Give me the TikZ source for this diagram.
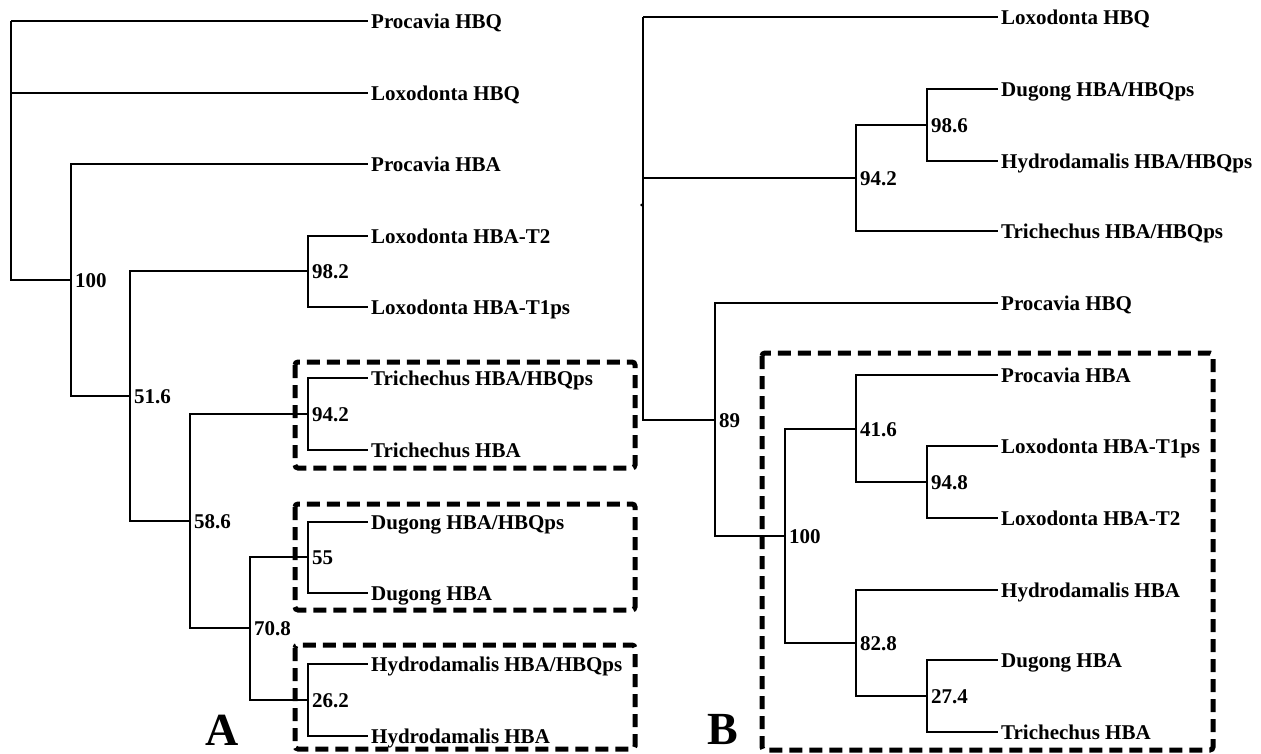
\documentclass[tikz,border=0pt]{standalone}
\usepackage{fontspec}
\setmainfont{Liberation Serif}
\begin{document}
\begin{tikzpicture}[x=1pt,y=-1pt,
  br/.style={line width=1.8pt, line join=miter},
  leaf/.style={anchor=base west, inner sep=0pt, font=\fontsize{21}{24}\selectfont\bfseries},
  supp/.style={anchor=base west, inner sep=0pt, font=\fontsize{21}{24}\selectfont\bfseries},
  panel/.style={anchor=base, inner sep=0pt, font=\fontsize{46}{50}\selectfont\bfseries},
  dbox/.style={line width=5pt, dash pattern=on 13pt off 7pt, rounded corners=3pt}]
\useasboundingbox (0,0) rectangle (1261,753);

% ---------------- Tree A ----------------
\coordinate (rA) at (11,21);
\coordinate (a100) at (71,280);
\coordinate (a516) at (130,396);
\coordinate (a982) at (308,271);
\coordinate (a586) at (190,521);
\coordinate (a942) at (308,414);
\coordinate (a708) at (250,628);
\coordinate (a55) at (308,557);
\coordinate (a262) at (308,700);

\coordinate (eA1) at (368,21);
\coordinate (eA2) at (368,93);
\coordinate (eA3) at (368,164);
\coordinate (eA4) at (368,236);
\coordinate (eA5) at (368,307);
\coordinate (eA6) at (368,378);
\coordinate (eA7) at (368,450);
\coordinate (eA8) at (368,522);
\coordinate (eA9) at (368,593);
\coordinate (eA10) at (368,664);
\coordinate (eA11) at (368,736);

\draw[br] (rA) |- (eA1);
\draw[br] (rA) |- (eA2);
\draw[br] (rA) |- (a100);
\draw[br] (a100) |- (eA3);
\draw[br] (a100) |- (a516);
\draw[br] (a516) |- (a982);
\draw[br] (a516) |- (a586);
\draw[br] (a982) |- (eA4);
\draw[br] (a982) |- (eA5);
\draw[br] (a586) |- (a942);
\draw[br] (a586) |- (a708);
\draw[br] (a942) |- (eA6);
\draw[br] (a942) |- (eA7);
\draw[br] (a708) |- (a55);
\draw[br] (a708) |- (a262);
\draw[br] (a55) |- (eA8);
\draw[br] (a55) |- (eA9);
\draw[br] (a262) |- (eA10);
\draw[br] (a262) |- (eA11);

\node[leaf] (tA1) at (371,28) {Procavia HBQ};
\node[leaf] (tA2) at (371,100) {Loxodonta HBQ};
\node[leaf] (tA3) at (371,171) {Procavia HBA};
\node[leaf] (tA4) at (371,243) {Loxodonta HBA-T2};
\node[leaf] (tA5) at (371,314) {Loxodonta HBA-T1ps};
\node[leaf] (tA6) at (371,385) {Trichechus HBA/HBQps};
\node[leaf] (tA7) at (371,457) {Trichechus HBA};
\node[leaf] (tA8) at (371,529) {Dugong HBA/HBQps};
\node[leaf] (tA9) at (371,600) {Dugong HBA};
\node[leaf] (tA10) at (371,671) {Hydrodamalis HBA/HBQps};
\node[leaf] (tA11) at (371,743) {Hydrodamalis HBA};

\node[supp] (sA100) at (75,287) {100};
\node[supp] (sA516) at (134,403) {51.6};
\node[supp] (sA982) at (312,278) {98.2};
\node[supp] (sA586) at (194,528) {58.6};
\node[supp] (sA942) at (312,421) {94.2};
\node[supp] (sA708) at (254,635) {70.8};
\node[supp] (sA55) at (312,564) {55};
\node[supp] (sA262) at (312,707) {26.2};

\draw[dbox] (295,362) rectangle (635,468);
\draw[dbox] (295,504) rectangle (635,610);
\draw[dbox] (295,645) rectangle (635,749);

\node[panel] (labA) at (222,745) {A};

% ---------------- Tree B ----------------
\coordinate (rB) at (643,17);
\coordinate (b942) at (856,178);
\coordinate (b986) at (927,125);
\coordinate (b89) at (715,420);
\coordinate (b100) at (785,536);
\coordinate (b416) at (856,429);
\coordinate (b948) at (927,482);
\coordinate (b828) at (856,643);
\coordinate (b274) at (927,696);

\coordinate (eB1) at (998,17);
\coordinate (eB2) at (998,89);
\coordinate (eB3) at (998,161);
\coordinate (eB4) at (998,231);
\coordinate (eB5) at (998,303);
\coordinate (eB6) at (998,375);
\coordinate (eB7) at (998,446);
\coordinate (eB8) at (998,518);
\coordinate (eB9) at (998,590);
\coordinate (eB10) at (998,660);
\coordinate (eB11) at (998,732);

\draw[br] (rB) |- (eB1);
\draw[br] (rB) |- (b942);
\draw[br] (rB) |- (b89);
\draw[br] (b942) |- (b986);
\draw[br] (b942) |- (eB4);
\draw[br] (b986) |- (eB2);
\draw[br] (b986) |- (eB3);
\draw[br] (b89) |- (eB5);
\draw[br] (b89) |- (b100);
\draw[br] (b100) |- (b416);
\draw[br] (b100) |- (b828);
\draw[br] (b416) |- (eB6);
\draw[br] (b416) |- (b948);
\draw[br] (b948) |- (eB7);
\draw[br] (b948) |- (eB8);
\draw[br] (b828) |- (eB9);
\draw[br] (b828) |- (b274);
\draw[br] (b274) |- (eB10);
\draw[br] (b274) |- (eB11);

\fill (641.5,205) circle (1.3pt);

\node[leaf] (tB1) at (1001,24) {Loxodonta HBQ};
\node[leaf] (tB2) at (1001,96) {Dugong HBA/HBQps};
\node[leaf] (tB3) at (1001,168) {Hydrodamalis HBA/HBQps};
\node[leaf] (tB4) at (1001,238) {Trichechus HBA/HBQps};
\node[leaf] (tB5) at (1001,310) {Procavia HBQ};
\node[leaf] (tB6) at (1001,382) {Procavia HBA};
\node[leaf] (tB7) at (1001,453) {Loxodonta HBA-T1ps};
\node[leaf] (tB8) at (1001,525) {Loxodonta HBA-T2};
\node[leaf] (tB9) at (1001,597) {Hydrodamalis HBA};
\node[leaf] (tB10) at (1001,667) {Dugong HBA};
\node[leaf] (tB11) at (1001,739) {Trichechus HBA};

\node[supp] (sB942) at (860,185) {94.2};
\node[supp] (sB986) at (931,132) {98.6};
\node[supp] (sB89) at (719,427) {89};
\node[supp] (sB100) at (789,543) {100};
\node[supp] (sB416) at (860,436) {41.6};
\node[supp] (sB948) at (931,489) {94.8};
\node[supp] (sB828) at (860,650) {82.8};
\node[supp] (sB274) at (931,703) {27.4};

\draw[dbox] (762,353) rectangle (1213,750);

\node[panel] (labB) at (723,744) {B};
\end{tikzpicture}
\end{document}
